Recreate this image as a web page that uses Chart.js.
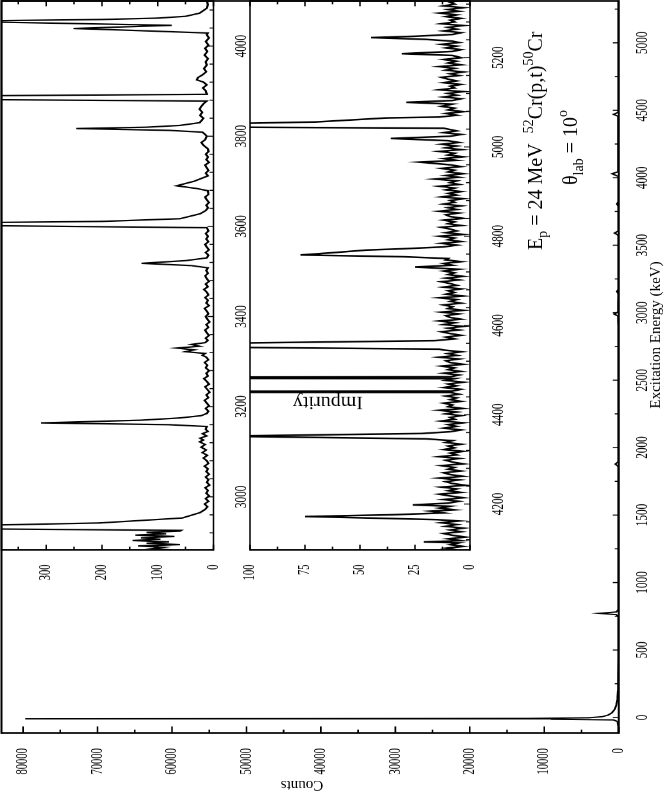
<!DOCTYPE html>
<html>
<head>
<meta charset="utf-8">
<script src="https://cdn.jsdelivr.net/npm/chart.js@4.4.0/dist/chart.umd.min.js"></script>
<style>
  html, body { margin: 0; padding: 0; background: #fff; overflow: hidden; }
  #page { position: relative; width: 664px; height: 798px; overflow: hidden; background: #fff; }
  #fig { position: absolute; left: 0; top: 0; transform-origin: 0 0; }
  #fig canvas { position: absolute; left: 0; top: 0; }
</style>
</head>
<body>
<div id="page"><div id="fig">
  <canvas id="mainChart"></canvas>
  <canvas id="upperInset"></canvas>
  <canvas id="lowerInset"></canvas>
</div></div>
<script>
// ---- data: [excitation energy keV, counts] ----
const mainSpectrum = [
  [-115, 40], [-60, 60], [-30, 150], [-18, 700], [-13, 9000], [-10, 79700], [-7, 12000], [-2, 4000],
  [6, 2200], [18, 1400], [35, 900], [60, 550], [90, 320], [130, 180], [200, 90], [300, 50],
  [450, 35], [600, 30], [745, 35], [762, 300], [772, 2600], [782, 300], [800, 40], [1000, 30],
  [1400, 25], [1860, 30], [1878, 450], [1896, 30], [2400, 25], [2900, 35], [2975, 80], [2990, 600],
  [3005, 80], [3140, 40], [3157, 250], [3172, 40], [3500, 30], [3575, 60], [3590, 550], [3605, 60],
  [3790, 40], [3806, 250], [3822, 40], [4010, 50], [4030, 900], [4045, 60], [4455, 60], [4470, 700],
  [4485, 60], [5000, 30], [5310, 30]
];

const upperSpectrum = [
  [2882, 75], [2885, 110], [2888, 90], [2891, 135], [2894, 60], [2897, 120], [2900, 80], [2903, 145],
  [2906, 95], [2909, 130], [2912, 70], [2915, 140], [2918, 85], [2921, 120], [2924, 60], [2925.5, 58],
  [2931, 650], [2942, 204], [2953, 56], [2965, 24], [2972, 15], [2978, 11], [2984, 16], [2990, 9],
  [2996, 14], [3002, 8], [3008, 13], [3014, 10], [3020, 15], [3026, 7], [3032, 12], [3038, 9],
  [3044, 14], [3050, 8], [3056, 13], [3062, 10], [3068, 16], [3074, 9], [3080, 12], [3086, 18],
  [3092, 11], [3098, 20], [3104, 13], [3110, 22], [3116, 15], [3122, 25], [3126, 18], [3130, 24],
  [3135, 12], [3140, 20], [3145, 10], [3150, 14], [3156, 12], [3160, 80], [3164, 309], [3170, 130],
  [3175, 60], [3180, 22], [3185, 12], [3190, 9], [3196, 14], [3202, 8], [3208, 12], [3214, 16],
  [3220, 9], [3226, 13], [3232, 7], [3238, 11], [3244, 15], [3250, 8], [3256, 12], [3262, 17],
  [3268, 10], [3274, 13], [3280, 8], [3286, 14], [3292, 11], [3298, 16], [3304, 9], [3310, 13],
  [3314, 20], [3318, 15], [3322, 50], [3326, 35], [3330, 66], [3334, 25], [3338, 40], [3342, 15],
  [3347, 10], [3352, 14], [3358, 8], [3364, 12], [3370, 15], [3376, 9], [3382, 13], [3388, 7],
  [3394, 11], [3400, 14], [3406, 9], [3412, 12], [3418, 16], [3424, 8], [3430, 13], [3436, 10],
  [3442, 15], [3448, 9], [3454, 12], [3460, 17], [3466, 10], [3472, 14], [3478, 8], [3484, 12],
  [3490, 15], [3496, 10], [3502, 13], [3508, 10], [3513, 40], [3518, 129], [3524, 50], [3530, 12],
  [3536, 9], [3542, 14], [3548, 8], [3554, 12], [3560, 15], [3566, 9], [3572, 13], [3578, 10],
  [3584, 14], [3590, 9], [3597, 12], [3605, 700], [3611, 200], [3617, 60], [3628, 24], [3635, 14],
  [3641, 10], [3647, 13], [3653, 8], [3659, 12], [3665, 15], [3671, 9], [3679, 10], [3684, 30],
  [3690, 66], [3700, 35], [3712, 10], [3718, 14], [3724, 9], [3730, 12], [3736, 15], [3742, 8],
  [3748, 13], [3754, 10], [3760, 14], [3766, 9], [3772, 10], [3780, 18], [3786, 22], [3792, 15],
  [3800, 12], [3805, 16], [3809, 20], [3813, 80], [3817, 246], [3820, 120], [3824, 60], [3830, 25],
  [3834, 22], [3840, 18], [3846, 24], [3853, 20], [3860, 25], [3866, 22], [3872, 18], [3878, 12],
  [3885.5, 950], [3893, 12], [3901, 14], [3907, 19], [3914, 12], [3920, 18], [3925, 30], [3930, 28],
  [3936, 20], [3943, 13], [3950, 17], [3958, 12], [3965, 14], [3972, 10], [3980, 16], [3988, 11],
  [3995, 15], [4002, 9], [4010, 14], [4018, 8], [4025, 12], [4029, 10], [4035, 150], [4039, 251],
  [4046, 75], [4053, 380], [4055, 900], [4056.5, 380], [4059, 200], [4062, 100], [4066, 50], [4073, 25],
  [4084, 12], [4092, 10], [4100, 12]
];

const lowerSpectrum = [
  [4097, 6], [4101, 11], [4105, 3], [4109, 9], [4113, 5], [4115, 21], [4118, 4], [4122, 10],
  [4126, 2], [4130, 8], [4134, 12], [4138, 4], [4142, 9], [4146, 3], [4150, 11], [4154, 6],
  [4158, 13], [4162, 5], [4165, 15], [4168, 40], [4172, 75], [4176, 35], [4180, 12], [4184, 18],
  [4187, 7], [4191, 14], [4195, 9], [4198, 26], [4202, 10], [4206, 5], [4210, 12], [4214, 3],
  [4218, 9], [4222, 14], [4226, 4], [4230, 10], [4234, 6], [4238, 13], [4242, 2], [4246, 8],
  [4250, 11], [4254, 5], [4258, 14], [4262, 3], [4266, 9], [4270, 12], [4274, 4], [4278, 10],
  [4282, 7], [4286, 13], [4290, 3], [4294, 8], [4298, 11], [4302, 5], [4306, 14], [4310, 6],
  [4314, 9], [4318, 3], [4322, 12], [4326, 7], [4330, 10], [4334, 4], [4338, 11], [4342, 8],
  [4346, 20], [4352, 115], [4358, 22], [4362, 9], [4366, 4], [4370, 12], [4374, 6], [4378, 10],
  [4382, 3], [4386, 13], [4390, 7], [4394, 9], [4398, 4], [4402, 11], [4406, 6], [4410, 14],
  [4414, 3], [4418, 10], [4422, 8], [4426, 12], [4430, 4], [4434, 9], [4438, 6], [4442, 11],
  [4446, 5], [4450, 9], [4451.5, 600], [4453, 8], [4457, 4], [4461, 12], [4465, 6], [4469, 10],
  [4473, 3], [4477, 11], [4481, 7], [4483, 400], [4485, 9], [4489, 5], [4493, 12], [4497, 4],
  [4501, 10], [4505, 7], [4509, 13], [4513, 3], [4517, 9], [4521, 11], [4525, 5], [4529, 14],
  [4533, 6], [4537, 10], [4541, 4], [4545, 12], [4547, 14], [4555, 200], [4566, 16], [4570, 7],
  [4574, 11], [4578, 4], [4582, 9], [4586, 13], [4590, 5], [4594, 10], [4598, 3], [4602, 12],
  [4606, 7], [4610, 14], [4614, 4], [4618, 9], [4622, 11], [4626, 5], [4630, 13], [4634, 3],
  [4638, 10], [4642, 8], [4646, 12], [4650, 4], [4654, 9], [4658, 6], [4662, 14], [4666, 3],
  [4670, 11], [4674, 7], [4678, 10], [4682, 4], [4686, 12], [4690, 6], [4694, 9], [4698, 13],
  [4702, 5], [4706, 11], [4710, 3], [4714, 10], [4718, 7], [4722, 12], [4726, 5], [4731, 25],
  [4735, 8], [4739, 12], [4743, 4], [4747, 11], [4750, 10], [4754, 30], [4758, 77], [4764, 60],
  [4769, 47], [4772, 30], [4776, 12], [4780, 6], [4784, 13], [4788, 4], [4792, 10], [4796, 7],
  [4800, 14], [4804, 3], [4808, 11], [4812, 6], [4816, 9], [4820, 13], [4824, 4], [4828, 10],
  [4832, 7], [4836, 12], [4840, 3], [4844, 9], [4848, 11], [4852, 5], [4856, 14], [4860, 6],
  [4864, 10], [4868, 4], [4872, 12], [4876, 7], [4880, 9], [4884, 3], [4888, 13], [4892, 6],
  [4896, 10], [4900, 4], [4904, 11], [4908, 7], [4912, 14], [4916, 5], [4920, 9], [4924, 6],
  [4928, 16], [4932, 5], [4936, 11], [4940, 3], [4944, 10], [4948, 7], [4952, 13], [4956, 4],
  [4960, 9], [4966, 23], [4970, 6], [4974, 12], [4978, 3], [4982, 10], [4986, 7], [4990, 14],
  [4994, 4], [4998, 11], [5002, 6], [5006, 13], [5010, 5], [5014, 10], [5019, 36], [5024, 9],
  [5028, 4], [5032, 12], [5036, 6], [5040, 10], [5042, 12], [5046, 180], [5056, 70], [5065, 38],
  [5067, 14], [5071, 6], [5075, 11], [5079, 3], [5083, 10], [5087, 7], [5091, 13], [5096, 8],
  [5100, 29], [5104, 8], [5108, 4], [5112, 12], [5116, 6], [5120, 10], [5124, 3], [5128, 14],
  [5132, 7], [5136, 9], [5140, 4], [5144, 12], [5148, 6], [5152, 10], [5156, 13], [5160, 5],
  [5164, 9], [5168, 3], [5172, 11], [5176, 7], [5180, 14], [5184, 4], [5188, 10], [5192, 6],
  [5196, 12], [5200, 4], [5205, 8], [5209, 31], [5214, 8], [5218, 4], [5222, 11], [5226, 6],
  [5230, 13], [5234, 5], [5237, 8], [5241, 20], [5245, 45], [5248, 25], [5252, 8], [5256, 4],
  [5260, 12], [5264, 6], [5268, 10], [5272, 3], [5276, 13], [5280, 7], [5284, 9], [5288, 4],
  [5292, 11], [5296, 6], [5300, 14], [5304, 5], [5308, 10], [5312, 3], [5316, 12], [5320, 7],
  [5324, 9], [5328, 5]
];

// ---- axes: ranges, labelled ticks, minor ticks ----
const mainEnergyRange = [-115, 5310];
const mainCountRange = [0, 82900];
const mainEnergyLabels = [0, 500, 1000, 1500, 2000, 2500, 3000, 3500, 4000, 4500, 5000];
const mainEnergyMinor = [250, 750, 1250, 1750, 2250, 2750, 3250, 3750, 4250, 4750, 5250];
const mainCountLabels = [0, 10000, 20000, 30000, 40000, 50000, 60000, 70000, 80000];
const mainCountMinor = [5000, 15000, 25000, 35000, 45000, 55000, 65000, 75000];

const upperEnergyRange = [2882, 4100];
const upperCountRange = [0, 380];
const upperEnergyLabels = [3000, 3200, 3400, 3600, 3800, 4000];
const upperEnergyMinor = [2920, 2960, 3040, 3080, 3120, 3160, 3240, 3280, 3320, 3360, 3440, 3480,
  3520, 3560, 3640, 3680, 3720, 3760, 3840, 3880, 3920, 3960, 4040, 4080];
const upperCountLabels = [0, 100, 200, 300];
const upperCountMinor = [50, 150, 250, 350];

const lowerEnergyRange = [4097, 5327];
const lowerCountRange = [0, 100];
const lowerEnergyLabels = [4200, 4400, 4600, 4800, 5000, 5200];
const lowerEnergyMinor = [4120, 4160, 4240, 4280, 4320, 4360, 4440, 4480, 4520, 4560, 4640, 4680,
  4720, 4760, 4840, 4880, 4920, 4960, 5040, 5080, 5120, 5160, 5240, 5280, 5320];
const lowerCountLabels = [0, 25, 50, 75, 100];
const lowerCountMinor = [12.5, 37.5, 62.5, 87.5];

// ---- geometry: the figure is drawn upright and then turned a quarter turn ----
const SX = 0.66;                       // the source figure is squeezed along its energy axis
const W0 = Math.round(798 / SX);
const H0 = 664;
const cx = v => v / SX;
const FONT = "'Liberation Serif', 'Times New Roman', serif";

const fig = document.getElementById('fig');
fig.style.width = W0 + 'px';
fig.style.height = H0 + 'px';
fig.style.transform = 'translate(0px, 798px) rotate(-90deg) scale(' + SX + ', 1)';

const mainArea = { left: 65, right: 797, top: 1.5, bottom: 618.7 };
const upperArea = { left: 248, right: 797, top: 1.5, bottom: 213.5 };
const lowerArea = { left: 248, right: 797, top: 250, bottom: 470 };

function layoutFor(area, yW, xH) {
  return {
    padding: {
      left: cx(area.left) - yW,
      right: W0 - cx(area.right),
      top: area.top,
      bottom: H0 - area.bottom - xH
    }
  };
}

function fixSize(size) {
  return function (scale) {
    if (scale.isHorizontal()) scale.height = size; else scale.width = size;
    scale.paddingLeft = scale.paddingRight = scale.paddingTop = scale.paddingBottom = 0;
  };
}

function onlyTicks(values) {
  return function (scale) { scale.ticks = values.map(v => ({ value: v })); };
}

// box around the plot area and inward tick marks, major and minor
const frameTicks = {
  id: 'frameTicks',
  afterDatasetsDraw(chart, args, opts) {
    const { ctx, chartArea: a } = chart;
    ctx.save();
    ctx.strokeStyle = '#000';
    ctx.lineCap = 'butt';
    ctx.beginPath();
    ctx.lineWidth = opts.vWidth;
    ctx.moveTo(a.left, a.top); ctx.lineTo(a.left, a.bottom);
    ctx.moveTo(a.right, a.top); ctx.lineTo(a.right, a.bottom);
    ctx.stroke();
    ctx.beginPath();
    ctx.lineWidth = opts.hWidth;
    ctx.moveTo(a.left - opts.vWidth / 2, a.top); ctx.lineTo(a.right + opts.vWidth / 2, a.top);
    ctx.moveTo(a.left - opts.vWidth / 2, a.bottom); ctx.lineTo(a.right + opts.vWidth / 2, a.bottom);
    ctx.stroke();
    for (const t of opts.marks) {
      const scale = chart.scales[t.scale];
      ctx.beginPath();
      ctx.lineWidth = t.width;
      for (const v of t.values) {
        const p = scale.getPixelForValue(v);
        if (t.side === 'bottom') { ctx.moveTo(p, a.bottom); ctx.lineTo(p, a.bottom - t.len); }
        if (t.side === 'left') { ctx.moveTo(a.left, p); ctx.lineTo(a.left + t.len, p); }
        if (t.side === 'right') { ctx.moveTo(a.right, p); ctx.lineTo(a.right - t.len, p); }
      }
      ctx.stroke();
    }
    ctx.restore();
  }
};

// free text is written unsqueezed: undo the horizontal squeeze before drawing
function uprightText(ctx) {
  ctx.save();
  ctx.scale(1 / SX, 1);
  ctx.fillStyle = '#000';
}

function textRun(ctx, parts, x, y) {
  for (const [txt, font, dy] of parts) {
    ctx.font = font;
    ctx.fillText(txt, x, y + dy);
    x += ctx.measureText(txt).width;
  }
}

const axisTitles = {
  id: 'axisTitles',
  afterDraw(chart) {
    const ctx = chart.ctx;
    uprightText(ctx);
    ctx.font = '15px ' + FONT;
    ctx.textAlign = 'center';
    ctx.textBaseline = 'middle';
    ctx.fillText('Excitation Energy (keV)', 463, 656);
    ctx.translate(13, 302);
    ctx.rotate(-Math.PI / 2);
    ctx.fillText('Counts', 0, 0);
    ctx.restore();
  }
};

const notes = {
  id: 'notes',
  afterDraw(chart) {
    const ctx = chart.ctx;
    uprightText(ctx);
    ctx.textBaseline = 'alphabetic';
    ctx.textAlign = 'left';
    const big = '20px ' + FONT, small = '14px ' + FONT;
    textRun(ctx, [['E', big, 0], ['p', small, 5], [' = 24 MeV  ', big, 0], ['52', small, -9],
                  ['Cr(p,t)', big, 0], ['50', small, -9], ['Cr', big, 0]], 548, 542);
    textRun(ctx, [['\u03B8', big, 0], ['lab', small, 6], [' = 10', big, 0], ['o', small, -10]], 613, 577);
    ctx.font = big;
    ctx.translate(401, 328);
    ctx.rotate(-Math.PI / 2);
    ctx.textAlign = 'center';
    ctx.fillText('Impurity', 0, 0);
    ctx.restore();
  }
};

function spectrumSet(points, width) {
  return {
    data: points.map(p => ({ x: p[0], y: p[1] })),
    borderColor: '#000',
    borderWidth: width,
    pointRadius: 0,
    tension: 0,
    fill: false
  };
}

function linearAxis(range, labels, size, font, pad) {
  return {
    type: 'linear',
    min: range[0],
    max: range[1],
    grid: { display: false },
    border: { display: false },
    afterBuildTicks: onlyTicks(labels),
    afterFit: fixSize(size),
    ticks: {
      autoSkip: false, maxRotation: 0, minRotation: 0, padding: pad, color: '#000',
      font: { family: FONT, size: font, lineHeight: 1 },
      callback: v => String(v)
    }
  };
}

function makeChart(id, area, yW, xH, dataset, xAxis, yAxis, plugOpts, plugins) {
  const canvas = document.getElementById(id);
  canvas.width = W0; canvas.height = H0;
  canvas.style.width = W0 + 'px'; canvas.style.height = H0 + 'px';
  return new Chart(canvas.getContext('2d'), {
    type: 'line',
    data: { datasets: [dataset] },
    options: {
      responsive: false,
      animation: false,
      devicePixelRatio: 1,
      layout: layoutFor(area, yW, xH),
      plugins: { legend: { display: false }, tooltip: { enabled: false }, frameTicks: plugOpts },
      scales: { x: xAxis, y: yAxis }
    },
    plugins: plugins
  });
}

// main spectrum
makeChart('mainChart', mainArea, cx(65), H0 - mainArea.bottom, spectrumSet(mainSpectrum, 2),
  linearAxis(mainEnergyRange, mainEnergyLabels, H0 - mainArea.bottom, 17, 7),
  linearAxis(mainCountRange, mainCountLabels, cx(65), 16, 15),
  { vWidth: 2.6, hWidth: 2, marks: [
    { scale: 'x', side: 'bottom', values: mainEnergyLabels, len: 6, width: 1.6 },
    { scale: 'x', side: 'bottom', values: mainEnergyMinor, len: 4, width: 1.6 },
    { scale: 'y', side: 'left', values: mainCountLabels, len: 10, width: 1.6 },
    { scale: 'y', side: 'left', values: mainCountMinor, len: 5, width: 1.6 }
  ] },
  [frameTicks, axisTitles]);

// inset, upper panel
makeChart('upperInset', upperArea, 60, 40, spectrumSet(upperSpectrum, 2.2),
  linearAxis(upperEnergyRange, upperEnergyLabels, 40, 17, 12),
  linearAxis(upperCountRange, upperCountLabels, 60, 16, 14),
  { vWidth: 2.4, hWidth: 1.6, marks: [
    { scale: 'x', side: 'bottom', values: upperEnergyLabels, len: 6, width: 1.5 },
    { scale: 'x', side: 'bottom', values: upperEnergyMinor, len: 4, width: 1.5 },
    { scale: 'y', side: 'left', values: upperCountLabels, len: 8, width: 1.5 },
    { scale: 'y', side: 'left', values: upperCountMinor, len: 5, width: 1.5 },
    { scale: 'y', side: 'right', values: upperCountLabels, len: 8, width: 1.5 },
    { scale: 'y', side: 'right', values: upperCountMinor, len: 5, width: 1.5 }
  ] },
  [frameTicks]);

// inset, lower panel
makeChart('lowerInset', lowerArea, 60, 40, spectrumSet(lowerSpectrum, 2.5),
  linearAxis(lowerEnergyRange, lowerEnergyLabels, 40, 17, 12),
  linearAxis(lowerCountRange, lowerCountLabels, 60, 16, 14),
  { vWidth: 2.4, hWidth: 1.6, marks: [
    { scale: 'x', side: 'bottom', values: lowerEnergyLabels, len: 6, width: 1.5 },
    { scale: 'x', side: 'bottom', values: lowerEnergyMinor, len: 4, width: 1.5 },
    { scale: 'y', side: 'left', values: lowerCountLabels, len: 8, width: 1.5 },
    { scale: 'y', side: 'left', values: lowerCountMinor, len: 5, width: 1.5 },
    { scale: 'y', side: 'right', values: lowerCountLabels, len: 8, width: 1.5 },
    { scale: 'y', side: 'right', values: lowerCountMinor, len: 5, width: 1.5 }
  ] },
  [frameTicks, notes]);
</script>
</body>
</html>
